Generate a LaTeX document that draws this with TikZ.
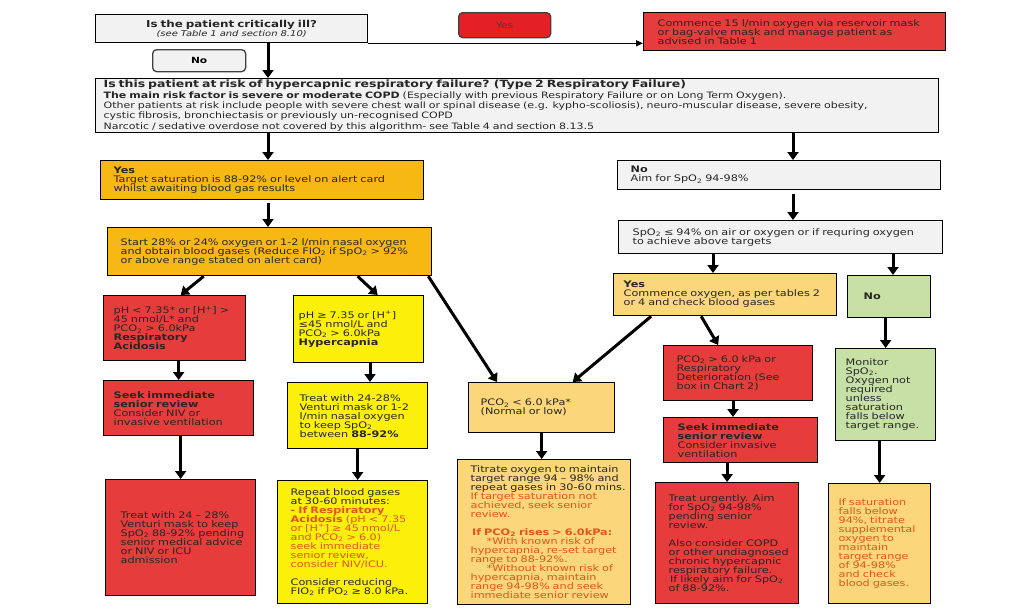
\documentclass[tikz,border=0pt]{standalone}
\usepackage{fontspec}
\setmainfont{DejaVu Sans}[FakeStretch=1.25]
\usepackage{xcolor}
\definecolor{flred}{RGB}{230,60,60}
\definecolor{flredtag}{RGB}{228,32,38}
\definecolor{flamber}{RGB}{248,184,20}
\definecolor{flpeach}{RGB}{252,214,122}
\definecolor{flyellow}{RGB}{252,240,10}
\definecolor{flgray}{RGB}{242,242,242}
\definecolor{flgreen}{RGB}{198,224,166}
\definecolor{flrust}{RGB}{226,84,30}
\usetikzlibrary{arrows.meta}

\newcommand\ox{O\textsubscript{2}}
\newcommand\rd[1]{\textcolor{flrust}{#1}}
\newcommand\lines[1]{\vtop{\lineskiplimit=-5pt\relax\let\\\cr\halign{##\hfil\cr#1\crcr}}}
\newcommand\clines[1]{\vtop{\lineskiplimit=-5pt\relax\let\\\cr\halign{\hfil##\hfil\cr#1\crcr}}}
\newcommand\fbody{\fontsize{9}{9}\selectfont}
\newcommand\frisk{\fontsize{8.8}{10.4}\selectfont}
\newcommand\ftitle{\fontsize{10}{10.4}\selectfont\bfseries}
\newcommand\ftag{\fontsize{8.5}{9}\selectfont}

\begin{document}
\begin{tikzpicture}[x=1pt, y=-1pt,
  flbox/.style={draw=black, line width=1.3pt, anchor=north west, inner ysep=0pt, align=left, font=\fbody, text=black!85},
  sz/.style n args={4}{minimum width=#1pt, minimum height=#2pt, inner xsep=#3pt, text width=#4pt},
  greybox/.style={flbox, fill=flgray},
  redbox/.style={flbox, fill=flred},
  amberbox/.style={flbox, fill=flamber},
  peachbox/.style={flbox, fill=flpeach},
  yelbox/.style={flbox, fill=flyellow},
  greenbox/.style={flbox, fill=flgreen},
  tag/.style={draw=black!75, line width=1.3pt, rounded corners=4pt, anchor=north west, inner sep=0pt, align=center, font=\ftag},
  arr/.style={-{Triangle[width=11pt,length=8pt]}, line width=3pt},
  thinarr/.style={-{Triangle[width=6pt,length=7pt]}, line width=1.3pt}]

  \fill[white] (0,0) rectangle (1014,608);
  \useasboundingbox (0,0) rectangle (1014,608);

  %% Top row: critically ill?
  \node[greybox, sz={272}{28}{8}{256}, align=center] (ill) at (95,14)
    {\clines{{\fontsize{9.5}{10}\selectfont\bfseries Is the patient critically ill?}\\ {\fontsize{8}{9}\selectfont\itshape (see Table 1 and section 8.10)}}};
  \node[tag, fill=flredtag, minimum width=92pt, minimum height=25pt, text=black!75] (yes) at (458,12) {Yes};
  \node[redbox, sz={302}{38}{14}{274}] (o15) at (643,12)
    {\lines{Commence 15 l/min oxygen via reservoir mask\\ or bag-valve mask and manage patient as\\ advised in Table 1}};
  \node[tag, fill=flgray, minimum width=93pt, minimum height=22pt, font=\ftag\bfseries] (no1) at (152,49) {No};

  %% Risk of hypercapnic failure
  \node[greybox, sz={843}{54}{8}{827}, font=\frisk] (risk) at (95,78)
    {\lines{{\ftitle Is this patient at risk of hypercapnic respiratory failure? (Type 2 Respiratory Failure)}\\
      \textbf{The main risk factor is severe or moderate COPD} (Especially with previous Respiratory Failure or on Long Term Oxygen).\\
      Other patients at risk include people with severe chest wall or spinal disease (e.g. kypho-scoliosis), neuro-muscular disease, severe obesity,\\
      cystic fibrosis, bronchiectasis or previously un-recognised COPD\\
      Narcotic / sedative overdose not covered by this algorithm- see Table 4 and section 8.13.5}};

  %% Left branch: at risk
  \node[amberbox, sz={323}{39}{13}{297}] (yesL) at (100,160)
    {\lines{\textbf{Yes}\\ Target saturation is 88-92\% or level on alert card\\ whilst awaiting blood gas results}};
  \node[amberbox, sz={324}{48}{13}{298}] (start) at (107,227)
    {\lines{Start 28\% or 24\% oxygen or 1-2 l/min nasal oxygen\\ and obtain blood gases (Reduce FI\ox{} if Sp\ox{} > 92\%\\ or above range stated on alert card)}};

  \node[redbox, sz={142}{65}{10}{122}] (acid) at (103,295)
    {\lines{pH < 7.35* or [H\textsuperscript{+}] >\\ 45 nmol/L* and\\ PC\ox{} > 6.0kPa\\ \textbf{Respiratory}\\ \textbf{Acidosis}}};
  \node[redbox, sz={150}{55}{10}{130}] (seekL) at (103,380)
    {\lines{\textbf{Seek immediate}\\ \textbf{senior review}\\ Consider NIV or\\ invasive ventilation}};
  \node[redbox, sz={150}{116}{15}{120}] (treatL) at (105,479)
    {\lines{Treat with 24 – 28\%\\ Venturi mask to keep\\ Sp\ox{} 88-92\% pending\\ senior medical advice\\ or NIV or ICU\\ admission}};

  \node[yelbox, sz={130}{67}{5}{120}] (hyper) at (293,295)
    {\lines{pH ≥ 7.35 or [H\textsuperscript{+}]\\ ≤45 nmol/L and\\ PC\ox{} > 6.0kPa\\ \textbf{Hypercapnia}}};
  \node[yelbox, sz={140}{66}{12}{116}] (venturi) at (287,382)
    {\lines{Treat with 24-28\%\\ Venturi mask or 1-2\\ l/min nasal oxygen\\ to keep Sp\ox\\ between \textbf{88-92\%}}};
  \node[yelbox, sz={150}{123}{13}{124}] (repeat) at (277,480)
    {\lines{Repeat blood gases\\ at 30-60 minutes:\\ \rd{\textbf{- If Respiratory}}\\ \rd{\textbf{Acidosis} (pH < 7.35}\\
      \rd{or [H\textsuperscript{+}] ≥ 45 nmol/L}\\ \rd{and PC\ox{} > 6.0)}\\ \rd{seek immediate}\\ \rd{senior review,}\\
      \rd{consider NIV/ICU.}\\ \\ Consider reducing\\ FI\ox{} if P\ox{} ≥ 8.0 kPa.}};

  %% Normal or low CO2
  \node[peachbox, sz={146}{50}{12}{122}] (pcolo) at (468,382)
    {\lines{PC\ox{} < 6.0 kPa*\\ (Normal or low)}};
  \node[peachbox, sz={173}{145}{13}{147}] (titrate) at (457,459)
    {\lines{Titrate oxygen to maintain\\ target range 94 – 98\% and\\ repeat gases in 30-60 mins.\\
      \rd{If target saturation not}\\ \rd{achieved, seek senior}\\ \rd{review.}\\ \\
      \rd{\textbf{\,If PC\ox{} rises > 6.0kPa:}}\\ \rd{\hspace*{16pt}*With known risk of}\\ \rd{hypercapnia, re-set target}\\
      \rd{range to 88-92\%.}\\ \rd{\hspace*{16pt}*Without known risk of}\\ \rd{hypercapnia, maintain}\\
      \rd{range 94-98\% and seek}\\ \rd{immediate senior review}}};

  %% Right branch: not at risk
  \node[greybox, sz={323}{29}{13}{297}] (noR) at (617,160)
    {\lines{\textbf{No}\\ Aim for Sp\ox{} 94-98\%}};
  \node[greybox, sz={324}{33}{14}{296}] (spo) at (618,220)
    {\lines{Sp\ox{} ≤ 94\% on air or oxygen or if requring oxygen\\ to achieve above targets}};
  \node[peachbox, sz={223}{42}{10}{203}] (yesR) at (613,273)
    {\lines{\textbf{Yes}\\ Commence oxygen, as per tables 2\\ or 4 and check blood gases}};
  \node[greenbox, sz={83}{42}{16}{51}] (noG) at (847,275) {\lines{\textbf{No}}};
  \node[greenbox, sz={100}{92}{10}{80}] (monitor) at (835,348)
    {\lines{Monitor\\ Sp\ox.\\ Oxygen not\\ required\\ unless\\ saturation\\ falls below\\ target range.}};
  \node[peachbox, sz={102}{120}{10}{82}] (ifsat) at (828,483)
    {\lines{\rd{If saturation}\\ \rd{falls below}\\ \rd{94\%, titrate}\\ \rd{supplemental}\\ \rd{oxygen to}\\
      \rd{maintain}\\ \rd{target range}\\ \rd{of 94-98\%}\\ \rd{and check}\\ \rd{blood gases.}}};

  \node[redbox, sz={149}{55}{13}{123}] (pcohi) at (663,345)
    {\lines{PC\ox{} > 6.0 kPa or\\ Respiratory\\ Deterioration (See\\ box in Chart 2)}};
  \node[redbox, sz={154}{45}{14}{126}] (seekR) at (663,417)
    {\lines{\textbf{Seek immediate}\\ \textbf{senior review}\\ Consider invasive\\ ventilation}};
  \node[redbox, sz={143}{121}{13}{117}] (treatU) at (655,482)
    {\lines{Treat urgently. Aim\\ for Sp\ox{} 94-98\%\\ pending senior\\ review.\\ \\ Also consider COPD\\
      or other undiagnosed\\ chronic hypercapnic\\ respiratory failure.\\ \,If likely aim for Sp\ox\\ of 88-92\%.}};

  %% Connectors
  \coordinate (lx) at (268,0);
  \coordinate (rx) at (793,0);
  \coordinate (sy) at (713,0);
  \coordinate (sn) at (893,0);
  \coordinate (hx) at (370,0);
  \coordinate (px) at (733,0);

  \draw[thinarr] (ill.south east) -- (ill.south east -| o15.west);
  \draw[arr] (ill.south -| lx) -- (risk.north -| lx);
  \draw[arr] (risk.south -| lx) -- (yesL.north -| lx);
  \draw[arr, shorten <=3pt] (yesL.south -| lx) -- (start.north -| lx);
  \draw[arr] ([xshift=-66pt]start.south) -- ([xshift=6pt]acid.north);
  \draw[arr] ([xshift=88pt]start.south) -- ([xshift=19pt]hyper.north);
  \draw[arr] ([xshift=-4pt]start.south east) -- ([xshift=29pt]pcolo.north west);
  \draw[arr] (acid.south -| seekL.north) -- (seekL.north);
  \draw[arr] (seekL.south -| treatL.north) -- (treatL.north);
  \draw[arr] (hyper.south -| hx) -- (venturi.north -| hx);
  \draw[arr] (venturi.south) -- (venturi.south |- repeat.north);
  \draw[arr] (pcolo.south) -- (pcolo.south |- titrate.north);

  \draw[arr] (risk.south -| rx) -- (noR.north -| rx);
  \draw[arr, shorten <=4pt] (noR.south -| rx) -- (spo.north -| rx);
  \draw[arr] (spo.south -| sy) -- (yesR.north -| sy);
  \draw[arr] (spo.south -| sn) -- (noG.north -| sn);
  \draw[arr] ([xshift=-74pt]yesR.south) -- ([xshift=31pt]pcolo.north);
  \draw[arr] ([xshift=-24pt]yesR.south) -- ([xshift=-20pt]pcohi.north);
  \draw[arr] (pcohi.south -| px) -- (seekR.north -| px);
  \draw[arr] (seekR.south -| treatU.north) -- (treatU.north);
  \draw[arr] (noG.south -| monitor.north) -- (monitor.north);
  \draw[arr] (monitor.south -| ifsat.north) -- (ifsat.north);
\end{tikzpicture}
\end{document}
